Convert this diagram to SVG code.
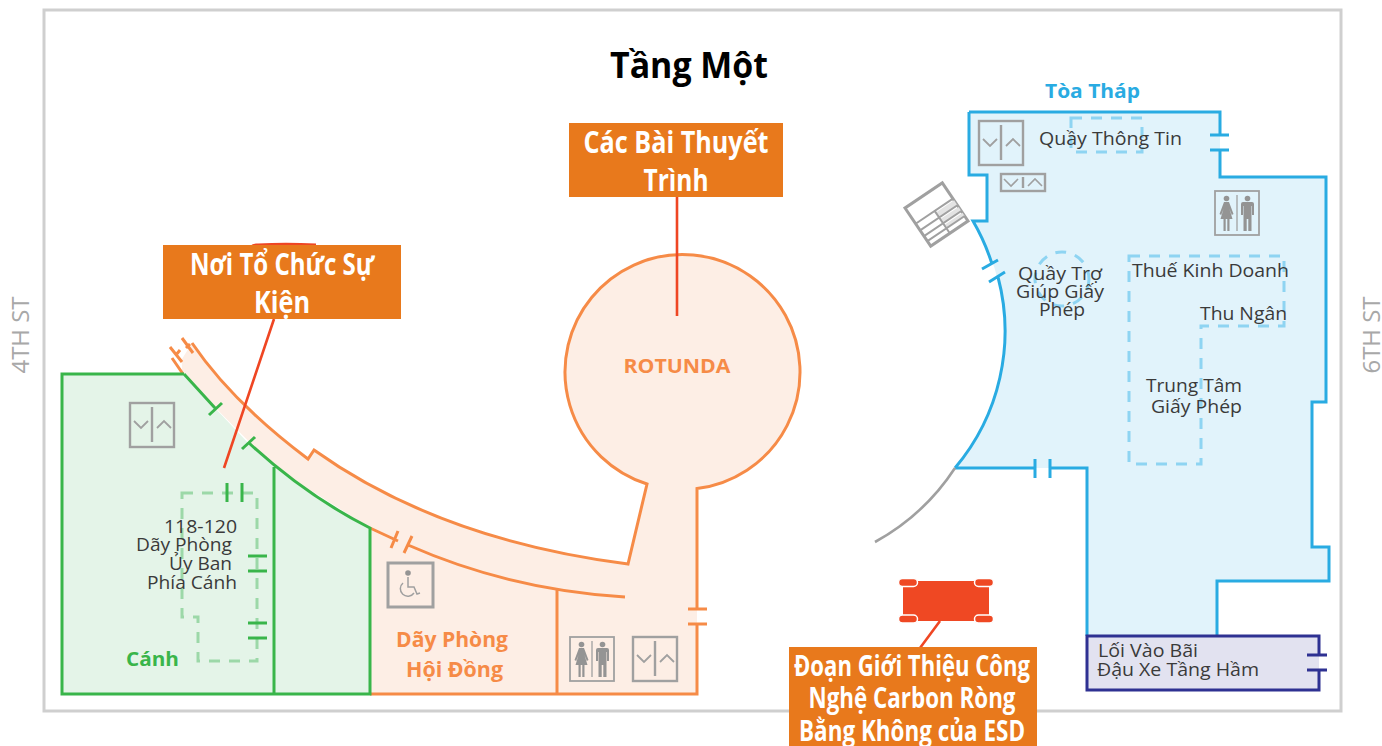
<svg xmlns="http://www.w3.org/2000/svg" width="1382" height="746" viewBox="0 0 1382 746">
<style>
text{font-family:"Open Sans","Noto Sans","DejaVu Sans",sans-serif}
.lbl{font-size:18.5px;fill:#3a3a3a}
.bold{font-weight:700}
.hd{font-weight:700;fill:#fff;font-size:31px;text-anchor:middle}
.grn{stroke:#39b54a;stroke-width:3;fill:none}
.org{stroke:#f68b47;stroke-width:3;fill:none}
.blu{stroke:#29abe2;stroke-width:3;fill:none}
.nvy{stroke:#2e3192;stroke-width:3;fill:none}
.red{stroke:#ef4623;stroke-width:2.6;fill:none}
.ico{stroke:#a0a0a0;stroke-width:2.4;fill:none}
.pic{fill:#949494}
.st{font-size:23px;fill:#a8a8a8;text-anchor:middle}
</style>
<defs>
<g id="lift"><rect x="1" y="1" width="44" height="44" class="ico"/><path d="M23 5V40" class="ico"/><path d="M5 19L12 26L19 19M28 26L35 19L42 26" style="stroke:#a0a0a0;stroke-width:1.800;fill:none"/></g>
<g id="wc"><rect x="1" y="1" width="44" height="44" style="stroke:#a0a0a0;stroke-width:1.800;fill:none"/><path d="M23 5V41" style="stroke:#a0a0a0;stroke-width:1.300;fill:none"/>
<circle cx="12.500" cy="8.500" r="2.800" class="pic"/><path class="pic" d="M10 12H15L19.500 24L17.800 25L15.500 19L18.500 29H15.500V41H13.300V29H11.700V41H9.500V29H6.500L9.500 19L7.200 25L5.500 24Z"/>
<circle cx="33.500" cy="8.500" r="2.800" class="pic"/><path class="pic" d="M29 12H38Q40 12 40 14V25H38V16H37.500V41H34.300V29H32.700V41H29.500V16H29V25H27V14Q27 12 29 12Z"/></g>
</defs>

<rect id="frame" x="44" y="10" width="1297" height="701" style="fill:#fff;stroke:#cfcfcf;stroke-width:3"/>
<text id="title" x="689" y="78" text-anchor="middle" class="bold" style="font-size:35px;fill:#000" textLength="158" lengthAdjust="spacingAndGlyphs">Tầng Một</text>

<g id="conference-wing">
<path d="M182 359L192 343Q230 400 308 459L314 450Q440 540 628 564L647 484A117.500 117.500 0 1 1 697 488.600V694H370V528L274 467L182 374Z" style="fill:#fdeee5"/>
<path class="org" d="M192 343Q232 402 308 459L314 450Q440 540 628 564L647 484A117.500 117.500 0 1 1 697 488.600V609M697 624V694H370M172 358L183 374M408 545Q510 590 625 597M557 589V694M688 609H707M688 624H707M170 347L182 362M182 338L193 353M176 355L180 350M186 348L190 344M370 528L398 541M391 548L398 531M404 553L412 536"/>
</g>

<g id="wing">
<path d="M62 374H184L215 408L250 445Q305 495 370 528V694H62Z" style="fill:#e4f4e8"/>
<path class="grn" d="M184 374H62V694H370V528Q305 495 249 443M184 374L215 408M209 415L222 403M242 449L255 437M274 467V694"/>
<path d="M182 493H257V661H198V617H182Z" style="fill:none;stroke:#9cd8a8;stroke-width:3;stroke-dasharray:11 9"/>
<path class="grn" d="M227 483V502M242 483V502M248 556H267M248 571H267M248 623H267M248 638H267"/>
</g>

<g id="tower">
<path d="M969 112H1220V177H1326V402H1312V547H1329V581H1217V636H1087V468H955A212 212 0 0 0 973 221H987V175H969Z" style="fill:#e1f3fb"/>
<path class="blu" d="M969 112H1220V135M1220 150V177H1326V402H1312V547H1329V581H1217V636M1087 636V468H1051M1035 468H955M1210 135H1229M1210 150H1229M1035 459V478M1050 459V478M955 468A212 212 0 0 0 998 277M992 264A212 212 0 0 0 973 221H987V175H969V112M989 282L1005 272M982 269L998 260"/>
<path d="M955 468A225 225 0 0 1 875 542" style="fill:none;stroke:#a0a0a0;stroke-width:2.600"/>
<g style="fill:none;stroke:#8ed4f2;stroke-width:3;stroke-dasharray:11 9">
<rect x="1071" y="118" width="71" height="34"/>
<circle cx="1062" cy="279" r="27"/>
<path d="M1129 256H1284V326H1201V464H1129Z"/>
</g>
</g>

<g id="parking">
<path d="M1087 636H1319V690H1087Z" style="fill:#e2e2f0"/>
<path class="nvy" d="M1319 655V636H1087V690H1319V670M1307 655H1327M1307 670H1327"/>
</g>

<g id="rotunda"><text x="677" y="373" text-anchor="middle" class="bold" style="font-size:20px;fill:#f68b47" textLength="107" lengthAdjust="spacingAndGlyphs">ROTUNDA</text></g>

<g id="icons">
<use href="#lift" transform="translate(129,402)"/>
<use href="#lift" transform="translate(632,636)"/>
<use href="#lift" transform="translate(978,120)"/>
<g transform="translate(1000,173)"><rect x="1" y="1" width="44" height="17" class="ico"/><path d="M23 4V15" class="ico"/><path d="M4 6L11 13L18 6M28 13L35 6L42 13" style="stroke:#a0a0a0;stroke-width:1.600;fill:none"/></g>
<use href="#wc" transform="translate(569,636)"/>
<use href="#wc" transform="translate(1214,190)"/>
<g id="accessible"><rect x="388" y="563" width="45" height="44" style="fill:none;stroke:#a0a0a0;stroke-width:3"/><circle cx="408" cy="573" r="2.800" class="pic"/><path d="M408 577V587H414L417 594L420 593M403 583A7.500 7.500 0 1 0 414 593" style="fill:none;stroke:#a0a0a0;stroke-width:1.500"/></g>
<g id="map" transform="translate(905,208) rotate(-34)">
<rect x="0" y="0" width="45" height="46" style="fill:#fff;stroke:#a0a0a0;stroke-width:3"/>
<rect x="24" y="21" width="21" height="6" style="fill:#e3e3e3"/><rect x="24" y="29" width="21" height="5" style="fill:#e3e3e3"/><rect x="24" y="36" width="21" height="4" style="fill:#e3e3e3"/>
<path d="M0 19H45M23 19V46M0 27H45M0 34H45M0 40H45" style="stroke:#a0a0a0;stroke-width:2;fill:none"/>
</g>
</g>

<g id="connectors">
<path class="red" d="M677 197V316M274 319L224 468M940 621L920 648"/>
</g>

<g id="wing-labels">
<text class="lbl" x="164" y="533" textLength="73" lengthAdjust="spacingAndGlyphs">118-120</text>
<text class="lbl" x="136" y="551" textLength="96" lengthAdjust="spacingAndGlyphs">Dãy Phòng</text>
<text class="lbl" x="169" y="570" textLength="63" lengthAdjust="spacingAndGlyphs">Ủy Ban</text>
<text class="lbl" x="147" y="589" textLength="90" lengthAdjust="spacingAndGlyphs">Phía Cánh</text>
<text class="bold" x="126" y="666" style="font-size:20px;fill:#39b54a" textLength="53" lengthAdjust="spacingAndGlyphs">Cánh</text>
<text class="bold" x="396" y="647" style="font-size:21px;fill:#f68b47" textLength="112" lengthAdjust="spacingAndGlyphs">Dãy Phòng</text>
<text class="bold" x="406" y="677" style="font-size:21px;fill:#f68b47" textLength="97" lengthAdjust="spacingAndGlyphs">Hội Đồng</text>
</g>

<g id="tower-labels">
<text class="bold" x="1045" y="98" style="font-size:20px;fill:#29abe2" textLength="95" lengthAdjust="spacingAndGlyphs">Tòa Tháp</text>
<text class="lbl" x="1039" y="145" textLength="143" lengthAdjust="spacingAndGlyphs">Quầy Thông Tin</text>
<text class="lbl" x="1018" y="280" textLength="84" lengthAdjust="spacingAndGlyphs">Quầy Trợ</text>
<text class="lbl" x="1016" y="298" textLength="88" lengthAdjust="spacingAndGlyphs">Giúp Giấy</text>
<text class="lbl" x="1039" y="316" textLength="46" lengthAdjust="spacingAndGlyphs">Phép</text>
<text class="lbl" x="1132" y="277" textLength="157" lengthAdjust="spacingAndGlyphs">Thuế Kinh Doanh</text>
<text class="lbl" x="1200" y="320" textLength="87" lengthAdjust="spacingAndGlyphs">Thu Ngân</text>
<text class="lbl" x="1146" y="392" textLength="96" lengthAdjust="spacingAndGlyphs">Trung Tâm</text>
<text class="lbl" x="1151" y="413" textLength="91" lengthAdjust="spacingAndGlyphs">Giấy Phép</text>
<text class="lbl" x="1098" y="657" textLength="100" lengthAdjust="spacingAndGlyphs">Lối Vào Bãi</text>
<text class="lbl" x="1097" y="676" textLength="162" lengthAdjust="spacingAndGlyphs">Đậu Xe Tầng Hầm</text>
</g>

<g id="street-labels">
<text class="st" transform="translate(29,335) rotate(-90)" textLength="77" lengthAdjust="spacingAndGlyphs">4TH ST</text>
<text class="st" transform="translate(1380,335) rotate(-90)" textLength="77" lengthAdjust="spacingAndGlyphs">6TH ST</text>
</g>

<g id="callout-events">
<path d="M250 246Q253 243 258 243.500Q285 242 316 243.500V246Z" style="fill:#ef4623"/>
<rect x="163" y="245" width="238" height="74" style="fill:#e8791c"/>
<text class="hd" x="282" y="275" textLength="184" lengthAdjust="spacingAndGlyphs">Nơi Tổ Chức Sự</text>
<text class="hd" x="282" y="313" textLength="56" lengthAdjust="spacingAndGlyphs">Kiện</text>
</g>
<g id="callout-talks">
<rect x="569" y="123" width="214" height="74" style="fill:#e8791c"/>
<text class="hd" x="676" y="153" textLength="185" lengthAdjust="spacingAndGlyphs">Các Bài Thuyết</text>
<text class="hd" x="676" y="191" textLength="65" lengthAdjust="spacingAndGlyphs">Trình</text>
</g>
<g id="callout-carbon">
<rect x="789" y="647" width="248" height="99" style="fill:#e8791c"/>
<text class="hd" x="912" y="676" style="font-size:28px" textLength="236" lengthAdjust="spacingAndGlyphs">Đoạn Giới Thiệu Công</text>
<text class="hd" x="912" y="708" style="font-size:28px" textLength="207" lengthAdjust="spacingAndGlyphs">Nghệ Carbon Ròng</text>
<text class="hd" x="912" y="741" style="font-size:28px" textLength="226" lengthAdjust="spacingAndGlyphs">Bằng Không của ESD</text>
</g>
<g id="car">
<rect x="903" y="581" width="86" height="40" style="fill:#ef4823"/>
<g style="fill:#ef4823;stroke:#fff;stroke-width:1.500">
<rect x="898.500" y="578.500" width="19" height="8" rx="4"/><rect x="974.500" y="578.500" width="19" height="8" rx="4"/>
<rect x="898.500" y="615" width="19" height="8" rx="4"/><rect x="974.500" y="615" width="19" height="8" rx="4"/>
</g>
</g>
</svg>
